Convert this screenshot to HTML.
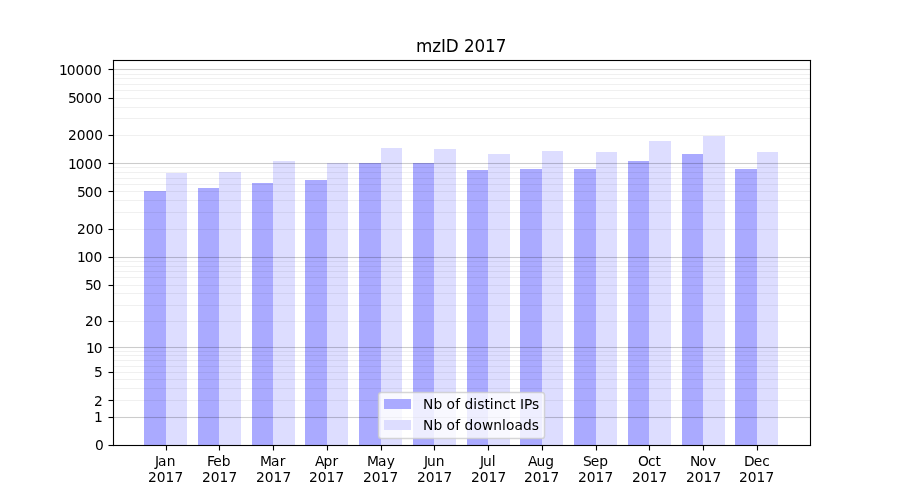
<!DOCTYPE html>
<html><head><meta charset="utf-8"><title>mzID 2017</title>
<style>
html,body{margin:0;padding:0;background:#fff;}
body{width:900px;height:500px;overflow:hidden;}
svg{display:block;}
text{font-family:'DejaVu Sans', 'Liberation Sans', sans-serif;fill:#000;}
.t{font-size:13.800px;}
.tt{font-size:16.800px;}
</style></head><body>
<svg width="900" height="500" viewBox="0 0 900 500">
<rect x="0" y="0" width="900" height="500" fill="#ffffff"/>
<g shape-rendering="crispEdges">
<rect x="144" y="191" width="22" height="254" fill="#aaaaff"/>
<rect x="198" y="188" width="21" height="257" fill="#aaaaff"/>
<rect x="252" y="183" width="21" height="262" fill="#aaaaff"/>
<rect x="305" y="180" width="22" height="265" fill="#aaaaff"/>
<rect x="359" y="163" width="22" height="282" fill="#aaaaff"/>
<rect x="413" y="163" width="21" height="282" fill="#aaaaff"/>
<rect x="467" y="170" width="21" height="275" fill="#aaaaff"/>
<rect x="520" y="169" width="22" height="276" fill="#aaaaff"/>
<rect x="574" y="169" width="22" height="276" fill="#aaaaff"/>
<rect x="628" y="161" width="21" height="284" fill="#aaaaff"/>
<rect x="682" y="154" width="21" height="291" fill="#aaaaff"/>
<rect x="735" y="169" width="22" height="276" fill="#aaaaff"/>
<rect x="166" y="173" width="21" height="272" fill="#ddddff"/>
<rect x="219" y="172" width="22" height="273" fill="#ddddff"/>
<rect x="273" y="161" width="22" height="284" fill="#ddddff"/>
<rect x="327" y="163" width="21" height="282" fill="#ddddff"/>
<rect x="381" y="148" width="21" height="297" fill="#ddddff"/>
<rect x="434" y="149" width="22" height="296" fill="#ddddff"/>
<rect x="488" y="154" width="22" height="291" fill="#ddddff"/>
<rect x="542" y="151" width="21" height="294" fill="#ddddff"/>
<rect x="596" y="152" width="21" height="293" fill="#ddddff"/>
<rect x="649" y="141" width="22" height="304" fill="#ddddff"/>
<rect x="703" y="136" width="22" height="309" fill="#ddddff"/>
<rect x="757" y="152" width="21" height="293" fill="#ddddff"/>
</g>
<rect x="113.5" y="73.9444" width="697" height="1.1111" fill="#000" fill-opacity="0.06"/>
<rect x="113.5" y="77.9444" width="697" height="1.1111" fill="#000" fill-opacity="0.06"/>
<rect x="113.5" y="83.9444" width="697" height="1.1111" fill="#000" fill-opacity="0.06"/>
<rect x="113.5" y="89.9444" width="697" height="1.1111" fill="#000" fill-opacity="0.06"/>
<rect x="113.5" y="97.9444" width="697" height="1.1111" fill="#000" fill-opacity="0.06"/>
<rect x="113.5" y="106.9444" width="697" height="1.1111" fill="#000" fill-opacity="0.06"/>
<rect x="113.5" y="117.9444" width="697" height="1.1111" fill="#000" fill-opacity="0.06"/>
<rect x="113.5" y="134.9444" width="697" height="1.1111" fill="#000" fill-opacity="0.06"/>
<rect x="113.5" y="166.9444" width="697" height="1.1111" fill="#000" fill-opacity="0.06"/>
<rect x="113.5" y="171.9444" width="697" height="1.1111" fill="#000" fill-opacity="0.06"/>
<rect x="113.5" y="177.9444" width="697" height="1.1111" fill="#000" fill-opacity="0.06"/>
<rect x="113.5" y="183.9444" width="697" height="1.1111" fill="#000" fill-opacity="0.06"/>
<rect x="113.5" y="190.9444" width="697" height="1.1111" fill="#000" fill-opacity="0.06"/>
<rect x="113.5" y="199.9444" width="697" height="1.1111" fill="#000" fill-opacity="0.06"/>
<rect x="113.5" y="211.9444" width="697" height="1.1111" fill="#000" fill-opacity="0.06"/>
<rect x="113.5" y="228.9444" width="697" height="1.1111" fill="#000" fill-opacity="0.06"/>
<rect x="113.5" y="260.9444" width="697" height="1.1111" fill="#000" fill-opacity="0.06"/>
<rect x="113.5" y="265.9444" width="697" height="1.1111" fill="#000" fill-opacity="0.06"/>
<rect x="113.5" y="270.9444" width="697" height="1.1111" fill="#000" fill-opacity="0.06"/>
<rect x="113.5" y="276.9444" width="697" height="1.1111" fill="#000" fill-opacity="0.06"/>
<rect x="113.5" y="284.9444" width="697" height="1.1111" fill="#000" fill-opacity="0.06"/>
<rect x="113.5" y="292.9444" width="697" height="1.1111" fill="#000" fill-opacity="0.06"/>
<rect x="113.5" y="304.9444" width="697" height="1.1111" fill="#000" fill-opacity="0.06"/>
<rect x="113.5" y="320.9444" width="697" height="1.1111" fill="#000" fill-opacity="0.06"/>
<rect x="113.5" y="350.9444" width="697" height="1.1111" fill="#000" fill-opacity="0.06"/>
<rect x="113.5" y="354.9444" width="697" height="1.1111" fill="#000" fill-opacity="0.06"/>
<rect x="113.5" y="359.9444" width="697" height="1.1111" fill="#000" fill-opacity="0.06"/>
<rect x="113.5" y="365.9444" width="697" height="1.1111" fill="#000" fill-opacity="0.06"/>
<rect x="113.5" y="371.9444" width="697" height="1.1111" fill="#000" fill-opacity="0.06"/>
<rect x="113.5" y="378.9444" width="697" height="1.1111" fill="#000" fill-opacity="0.06"/>
<rect x="113.5" y="387.9444" width="697" height="1.1111" fill="#000" fill-opacity="0.06"/>
<rect x="113.5" y="399.9444" width="697" height="1.1111" fill="#000" fill-opacity="0.06"/>
<rect x="113.5" y="68.9444" width="697" height="1.1111" fill="#000" fill-opacity="0.2"/>
<rect x="113.5" y="162.9444" width="697" height="1.1111" fill="#000" fill-opacity="0.2"/>
<rect x="113.5" y="256.9444" width="697" height="1.1111" fill="#000" fill-opacity="0.2"/>
<rect x="113.5" y="346.9444" width="697" height="1.1111" fill="#000" fill-opacity="0.2"/>
<rect x="113.5" y="416.9444" width="697" height="1.1111" fill="#000" fill-opacity="0.2"/>
<rect x="112.944" y="59.9444" width="698.111" height="1.1111" fill="#000" fill-opacity="1"/>
<rect x="112.944" y="444.9444" width="698.111" height="1.1111" fill="#000" fill-opacity="1"/>
<rect x="112.9444" y="59.9444" width="1.1111" height="386.111" fill="#000" fill-opacity="1"/>
<rect x="809.9444" y="59.9444" width="1.1111" height="386.111" fill="#000" fill-opacity="1"/>
<rect x="108.5" y="68.9444" width="5" height="1.1111" fill="#000" fill-opacity="1"/>
<rect x="108.5" y="97.9444" width="5" height="1.1111" fill="#000" fill-opacity="1"/>
<rect x="108.5" y="134.9444" width="5" height="1.1111" fill="#000" fill-opacity="1"/>
<rect x="108.5" y="162.9444" width="5" height="1.1111" fill="#000" fill-opacity="1"/>
<rect x="108.5" y="190.9444" width="5" height="1.1111" fill="#000" fill-opacity="1"/>
<rect x="108.5" y="228.9444" width="5" height="1.1111" fill="#000" fill-opacity="1"/>
<rect x="108.5" y="256.9444" width="5" height="1.1111" fill="#000" fill-opacity="1"/>
<rect x="108.5" y="284.9444" width="5" height="1.1111" fill="#000" fill-opacity="1"/>
<rect x="108.5" y="320.9444" width="5" height="1.1111" fill="#000" fill-opacity="1"/>
<rect x="108.5" y="346.9444" width="5" height="1.1111" fill="#000" fill-opacity="1"/>
<rect x="108.5" y="371.9444" width="5" height="1.1111" fill="#000" fill-opacity="1"/>
<rect x="108.5" y="399.9444" width="5" height="1.1111" fill="#000" fill-opacity="1"/>
<rect x="108.5" y="416.9444" width="5" height="1.1111" fill="#000" fill-opacity="1"/>
<rect x="108.5" y="444.9444" width="5" height="1.1111" fill="#000" fill-opacity="1"/>
<rect x="165.9444" y="445.5" width="1.1111" height="5" fill="#000" fill-opacity="1"/>
<rect x="218.9444" y="445.5" width="1.1111" height="5" fill="#000" fill-opacity="1"/>
<rect x="272.9444" y="445.5" width="1.1111" height="5" fill="#000" fill-opacity="1"/>
<rect x="326.9444" y="445.5" width="1.1111" height="5" fill="#000" fill-opacity="1"/>
<rect x="380.9444" y="445.5" width="1.1111" height="5" fill="#000" fill-opacity="1"/>
<rect x="433.9444" y="445.5" width="1.1111" height="5" fill="#000" fill-opacity="1"/>
<rect x="487.9444" y="445.5" width="1.1111" height="5" fill="#000" fill-opacity="1"/>
<rect x="541.9444" y="445.5" width="1.1111" height="5" fill="#000" fill-opacity="1"/>
<rect x="595.9444" y="445.5" width="1.1111" height="5" fill="#000" fill-opacity="1"/>
<rect x="648.9444" y="445.5" width="1.1111" height="5" fill="#000" fill-opacity="1"/>
<rect x="702.9444" y="445.5" width="1.1111" height="5" fill="#000" fill-opacity="1"/>
<rect x="756.9444" y="445.5" width="1.1111" height="5" fill="#000" fill-opacity="1"/>
<text class="t" x="58.903 66.778 75.528 84.278 93.028" y="74.526">10000</text>
<text class="t" x="68.028 75.778 84.528 93.278" y="102.548">5000</text>
<text class="t" x="68.028 76.778 85.528 94.278" y="139.664">2000</text>
<text class="t" x="67.903 75.778 84.528 93.278" y="168.669">1000</text>
<text class="t" x="77.028 84.778 93.528" y="196.654">500</text>
<text class="t" x="77.028 85.778 94.528" y="233.661">200</text>
<text class="t" x="76.903 84.778 93.528" y="261.734">100</text>
<text class="t" x="85.028 92.778" y="289.608">50</text>
<text class="t" x="85.028 93.778" y="325.554">20</text>
<text class="t" x="85.903 93.778" y="352.682">10</text>
<text class="t" x="94.028" y="376.658">5</text>
<text class="t" x="94.028" y="405.684">2</text>
<text class="t" x="93.903" y="421.724">1</text>
<text class="t" x="95.028" y="449.500">0</text>
<text class="t" x="155.012 158.012 166.637" y="465.722">Jan</text>
<text class="t" x="147.887 156.637 165.387 174.512" y="481.672">2017</text>
<text class="t" x="207.123 213.373 221.873" y="465.722">Feb</text>
<text class="t" x="202.123 210.873 219.623 228.498" y="481.672">2017</text>
<text class="t" x="259.985 270.985 279.860" y="465.722">Mar</text>
<text class="t" x="256.110 264.860 273.610 282.485" y="481.672">2017</text>
<text class="t" x="315.096 323.596 332.471" y="465.722">Apr</text>
<text class="t" x="309.096 317.846 326.596 335.471" y="481.672">2017</text>
<text class="t" x="366.958 377.958 386.833" y="465.722">May</text>
<text class="t" x="363.083 371.833 380.583 389.458" y="481.672">2017</text>
<text class="t" x="423.882 426.882 435.632" y="465.722">Jun</text>
<text class="t" x="417.069 425.819 434.569 443.444" y="481.672">2017</text>
<text class="t" x="480.056 483.056 491.806" y="465.722">Jul</text>
<text class="t" x="471.056 479.806 488.556 497.431" y="481.672">2017</text>
<text class="t" x="528.042 536.542 545.292" y="465.722">Aug</text>
<text class="t" x="524.042 532.792 541.542 550.417" y="481.672">2017</text>
<text class="t" x="583.029 590.779 599.279" y="465.722">Sep</text>
<text class="t" x="578.029 586.779 595.529 604.404" y="481.672">2017</text>
<text class="t" x="638.078 647.953 655.578" y="465.722">Oct</text>
<text class="t" x="632.015 640.765 649.515 658.390" y="481.672">2017</text>
<text class="t" x="690.002 699.127 707.877" y="465.722">Nov</text>
<text class="t" x="686.002 694.752 703.502 712.377" y="481.672">2017</text>
<text class="t" x="744.113 753.863 762.363" y="465.722">Dec</text>
<text class="t" x="738.988 747.738 756.488 765.613" y="481.672">2017</text>
<text class="tt" x="415.875 432.125 440.875 445.750 458.625 463.875 474.500 485.000 495.625" y="51.667">mzID 2017</text>
<rect x="378.550" y="392.400" width="166.000" height="46.100" rx="2.778" ry="2.778" fill="#ffffff" fill-opacity="0.8"/>
<rect x="378.550" y="392.400" width="166.000" height="46.100" rx="2.778" ry="2.778" fill="none" stroke="#cccccc" stroke-opacity="0.8" stroke-width="1.4889"/>
<g shape-rendering="crispEdges"><rect x="384" y="399" width="27" height="10" fill="#aaaaff"/><rect x="384" y="420" width="27" height="10" fill="#ddddff"/></g>
<text class="t" x="423.069 433.444 442.319 446.444 455.194 460.194 464.569 473.194 477.319 484.444 489.694 493.819 502.569 510.194 515.694 520.069 524.069 531.944" y="408.556">Nb of distinct IPs</text>
<text class="t" x="423.069 433.444 442.319 446.444 455.194 460.194 464.569 473.444 481.944 493.319 502.069 505.944 514.444 523.069 531.694" y="429.500">Nb of downloads</text>
</svg>
</body></html>
